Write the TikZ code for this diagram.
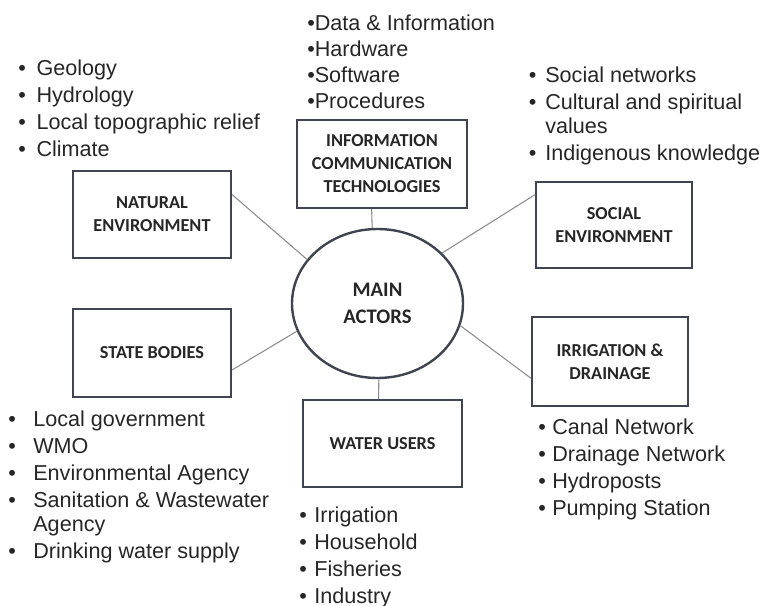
\documentclass[tikz,border=0pt]{standalone}
\usepackage{fontspec}
\setmainfont{Liberation Sans}
\newfontfamily\boxfont{Carlito}
\usetikzlibrary{shapes.geometric}

\definecolor{boxgray}{HTML}{3F4450}
\definecolor{linkgray}{HTML}{8C8C8C}
\definecolor{textgray}{HTML}{262626}

% bullet followed by a gap of the given width
\newcommand{\bl}[1]{\makebox[#1][l]{•}}

\begin{document}
\begin{tikzpicture}[x=0.75pt, y=-0.75pt,
        actor/.style={draw=boxgray, line width=1.5pt, rectangle, align=center, text=textgray,
            font=\boxfont\bfseries\fontsize{13.7}{17.25}\selectfont},
        link/.style={draw=linkgray, line width=0.8pt},
        items/.style={anchor=base west, inner sep=0pt, text=textgray,
            font=\fontsize{16.2}{20.25}\selectfont}]
        \useasboundingbox (0,0) rectangle (760,606);

        \node[draw=boxgray, line width=1.8pt, ellipse, minimum width=128.25pt, minimum height=111.75pt,
            inner sep=0pt, align=center, text=textgray,
            font=\boxfont\bfseries\fontsize{15.5}{20.25}\selectfont] (actors) at (377.5,303.5) {MAIN\\ACTORS};

        \node[actor, minimum width=118.5pt, minimum height=65.25pt] (natenv) at (152,214.5) {NATURAL\\ENVIRONMENT};
        \node[actor, minimum width=127.5pt, minimum height=66pt] (ict) at (382,164) {INFORMATION\\COMMUNICATION\\TECHNOLOGIES};
        \node[actor, minimum width=117pt, minimum height=64.5pt] (socenv) at (614,225) {SOCIAL\\ENVIRONMENT};
        \node[actor, minimum width=118.5pt, minimum height=66pt] (state) at (152,353) {STATE BODIES};
        \node[actor, minimum width=119.25pt, minimum height=65.25pt] (users) at (382.5,443.5) {WATER USERS};
        \node[actor, minimum width=117pt, minimum height=66.75pt] (irrig) at (610,361.5) {IRRIGATION \&\\DRAINAGE};

        \draw[link] (natenv.14) -- (actors.148);
        \draw[link] (ict.257) -- (actors.94);
        \draw[link] (socenv.159) -- (actors.38);
        \draw[link] (state.348) -- (actors.199);
        \draw[link] (users.95) -- (actors.271);
        \draw[link] (irrig.192) -- (actors.345);

        \node[items] (natlist) at (18,75.5) {\begin{tabular}[t]{@{}l@{}}
            \bl{13.7pt}Geology\\
            \bl{13.7pt}Hydrology\\
            \bl{13.7pt}Local topographic relief\\
            \bl{13.7pt}Climate
        \end{tabular}};
        \node[items, font=\fontsize{16.2}{19.5}\selectfont] (ictlist) at (307,30.5) {\begin{tabular}[t]{@{}l@{}}
            •Data \& Information\\
            •Hardware\\
            •Software\\
            •Procedures
        \end{tabular}};
        \node[items] (soclist) at (528.5,82.5) {\begin{tabular}[t]{@{}l@{}}
            \bl{12.4pt}Social networks\\
            \bl{12.4pt}Cultural and spiritual\\[-2.25pt]
            \hspace*{12.4pt}values\\
            \bl{12.4pt}Indigenous knowledge
        \end{tabular}};
        \node[items] (statelist) at (8,426.5) {\begin{tabular}[t]{@{}l@{}}
            \bl{18.8pt}Local government\\
            \bl{18.8pt}WMO\\
            \bl{18.8pt}Environmental Agency\\
            \bl{18.8pt}Sanitation \& Wastewater\\[-2.25pt]
            \hspace*{18.8pt}Agency\\
            \bl{18.8pt}Drinking water supply
        \end{tabular}};
        \node[items] (userlist) at (299,522.5) {\begin{tabular}[t]{@{}l@{}}
            \bl{11.3pt}Irrigation\\
            \bl{11.3pt}Household\\
            \bl{11.3pt}Fisheries\\
            \bl{11.3pt}Industry
        \end{tabular}};
        \node[items] (irrlist) at (538,434.5) {\begin{tabular}[t]{@{}l@{}}
            \bl{10.5pt}Canal Network\\
            \bl{10.5pt}Drainage Network\\
            \bl{10.5pt}Hydroposts\\
            \bl{10.5pt}Pumping Station
        \end{tabular}};
    \end{tikzpicture}
\end{document}
